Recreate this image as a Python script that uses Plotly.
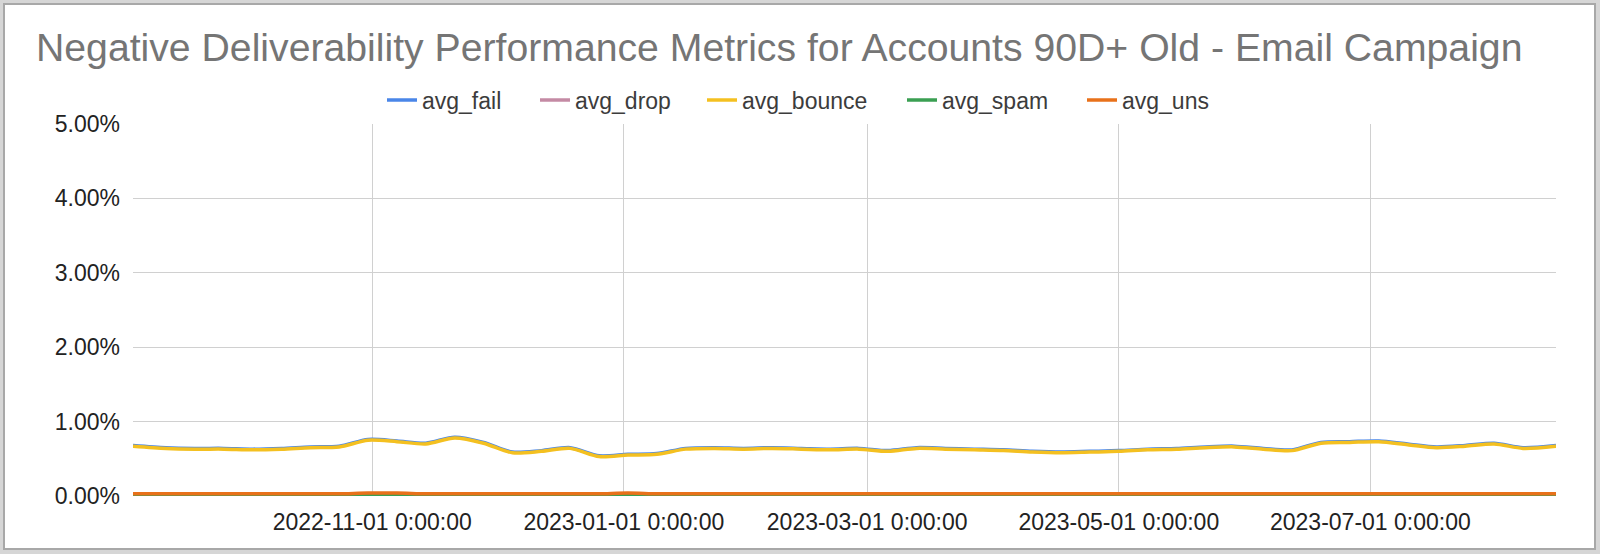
import plotly.graph_objects as go

# weekly points
dates = [
    '2022-09-04', '2022-09-12', '2022-09-19', '2022-09-26', '2022-10-03',
    '2022-10-10', '2022-10-17', '2022-10-24', '2022-10-31', '2022-11-07',
    '2022-11-14', '2022-11-21', '2022-11-28', '2022-12-05', '2022-12-12',
    '2022-12-19', '2022-12-26', '2023-01-02', '2023-01-09', '2023-01-16',
    '2023-01-23', '2023-01-30', '2023-02-06', '2023-02-13', '2023-02-20',
    '2023-02-27', '2023-03-06', '2023-03-13', '2023-03-20', '2023-03-27',
    '2023-04-03', '2023-04-10', '2023-04-17', '2023-04-24', '2023-05-01',
    '2023-05-08', '2023-05-15', '2023-05-22', '2023-05-29', '2023-06-05',
    '2023-06-12', '2023-06-19', '2023-06-26', '2023-07-03', '2023-07-10',
    '2023-07-17', '2023-07-24', '2023-07-31', '2023-08-07', '2023-08-15',
]

avg_bounce = [
    0.0067, 0.0064, 0.0063, 0.0063, 0.0062, 0.0063, 0.0065, 0.0066, 0.0075, 0.0073,
    0.0070, 0.0078, 0.0071, 0.0058, 0.0060, 0.0064, 0.0053, 0.0055, 0.0056, 0.0063,
    0.0064, 0.0063, 0.0064, 0.0063, 0.0062, 0.0063, 0.0060, 0.0064, 0.0063, 0.0062,
    0.0061, 0.0059, 0.0058, 0.0059, 0.0060, 0.0062, 0.0063, 0.0065, 0.0066, 0.0063,
    0.0061, 0.0071, 0.0072, 0.0073, 0.0069, 0.0065, 0.0067, 0.0070, 0.0064, 0.0067,
]
avg_fail = [
    0.0068, 0.0065, 0.0064, 0.0064, 0.0063, 0.0064, 0.0066, 0.0067, 0.0076, 0.0074,
    0.0071, 0.0079, 0.0072, 0.0059, 0.0061, 0.0065, 0.0054, 0.0056, 0.0057, 0.0064,
    0.0065, 0.0064, 0.0065, 0.0064, 0.0063, 0.0064, 0.0061, 0.0065, 0.0064, 0.0063,
    0.0062, 0.0060, 0.0059, 0.0060, 0.0061, 0.0063, 0.0064, 0.0066, 0.0067, 0.0064,
    0.0062, 0.0072, 0.0073, 0.0074, 0.0070, 0.0066, 0.0068, 0.0071, 0.0065, 0.0068,
]
avg_drop = [
    0.0001, 0.0001, 0.0001, 0.0001, 0.0001, 0.0001, 0.0001, 0.0001, 0.0001, 0.0001,
    0.0001, 0.0001, 0.0001, 0.0001, 0.0001, 0.0001, 0.0001, 0.0001, 0.0001, 0.0001,
    0.0001, 0.0001, 0.0001, 0.0001, 0.0001, 0.0001, 0.0001, 0.0001, 0.0001, 0.0001,
    0.0001, 0.0001, 0.0001, 0.0001, 0.0001, 0.0001, 0.0001, 0.0001, 0.0001, 0.0001,
    0.0001, 0.0001, 0.0001, 0.0001, 0.0001, 0.0001, 0.0001, 0.0001, 0.0001, 0.0001,
]
avg_spam = [
    0.00002, 0.00002, 0.00002, 0.00002, 0.00002, 0.00002, 0.00002, 0.00002, 0.00002, 0.00002,
    0.00002, 0.00002, 0.00002, 0.00002, 0.00002, 0.00002, 0.00002, 0.00002, 0.00002, 0.00002,
    0.00002, 0.00002, 0.00002, 0.00002, 0.00002, 0.00002, 0.00002, 0.00002, 0.00002, 0.00002,
    0.00002, 0.00002, 0.00002, 0.00002, 0.00002, 0.00002, 0.00002, 0.00002, 0.00002, 0.00002,
    0.00002, 0.00002, 0.00002, 0.00002, 0.00002, 0.00002, 0.00002, 0.00002, 0.00002, 0.00002,
]
avg_uns = [
    0.0003, 0.0003, 0.0003, 0.0003, 0.0003, 0.0003, 0.0003, 0.0003, 0.0004, 0.0004,
    0.0003, 0.0003, 0.0003, 0.0003, 0.0003, 0.0003, 0.0003, 0.0004, 0.0003, 0.0003,
    0.0003, 0.0003, 0.0003, 0.0003, 0.0003, 0.0003, 0.0003, 0.0003, 0.0003, 0.0003,
    0.0003, 0.0003, 0.0003, 0.0003, 0.0003, 0.0003, 0.0003, 0.0003, 0.0003, 0.0003,
    0.0003, 0.0003, 0.0003, 0.0003, 0.0003, 0.0003, 0.0003, 0.0003, 0.0003, 0.0003,
]

series_names = ['avg_fail', 'avg_drop', 'avg_bounce', 'avg_spam', 'avg_uns']
series_colors = ['#4a86e8', '#c48aa4', '#f4c020', '#3a9f52', '#e8711a']

x_tick_dates = ['2022-11-01', '2023-01-01', '2023-03-01', '2023-05-01', '2023-07-01']
x_tick_text = ['2022-11-01 0:00:00', '2023-01-01 0:00:00', '2023-03-01 0:00:00',
               '2023-05-01 0:00:00', '2023-07-01 0:00:00']
y_ticks = [0, 0.01, 0.02, 0.03, 0.04, 0.05]

font = dict(family='Liberation Sans, Arial, sans-serif')

W, H = 1600, 554
L, R, T, B = 133, 44, 124, 58
pw, ph = W - L - R, H - T - B

# one legend per series so the wide spacing of the original can be kept
legend_keys = ['legend', 'legend2', 'legend3', 'legend4', 'legend5']
legend_left_px = [387, 540, 707, 907, 1087]

fig = go.Figure()
for name, values, color, key in zip(series_names,
                                    [avg_fail, avg_drop, avg_bounce, avg_spam, avg_uns],
                                    series_colors, legend_keys):
    fig.add_trace(go.Scatter(
        x=dates, y=values, name=name, mode='lines', legend=key, showlegend=True,
        line=dict(color=color, width=3.5, shape='spline', smoothing=0.8)
    ))

legends = {}
for key, px in zip(legend_keys, legend_left_px):
    legends[key] = dict(
        orientation='h', x=(px - 5 - L) / pw, xanchor='left',
        y=1 + (T - 100) / ph, yanchor='middle',
        font=dict(size=23, color='#3c3c3c'),
        itemwidth=30, bgcolor='rgba(0,0,0,0)', borderwidth=0
    )

fig.update_layout(
    width=W, height=H,
    font=font,
    showlegend=True,
    paper_bgcolor='#d6d6d6',
    plot_bgcolor='white',
    margin=dict(l=L, r=R, t=T, b=B),
    title=dict(
        text='Negative Deliverability Performance Metrics for Accounts 90D+ Old - Email Campaign',
        font=dict(size=39.2, color='#757575'),
        x=36 / W, xanchor='left', y=1 - 47 / H, yanchor='middle'
    ),
    xaxis=dict(
        range=['2022-09-04', '2023-08-15'],
        tickvals=x_tick_dates, ticktext=x_tick_text,
        showgrid=True, gridcolor='#d0d0d0', gridwidth=1,
        tickfont=dict(size=23, color='#222222'),
        ticks='', zeroline=False, showline=False, ticklabelstandoff=10
    ),
    yaxis=dict(
        range=[0, 0.05], tickvals=y_ticks, tickformat='.2%',
        showgrid=True, gridcolor='#d0d0d0', gridwidth=1,
        tickfont=dict(size=23, color='#222222'),
        ticks='', zeroline=False, showline=False, ticklabelstandoff=12
    ),
    # white card with a thin grey border, like the screenshot frame
    shapes=[dict(
        type='rect', xref='paper', yref='paper', layer='below',
        x0=(4 - L) / pw, x1=(W - 5 - L) / pw,
        y0=-(B - 5) / ph, y1=1 + (T - 4) / ph,
        fillcolor='white', line=dict(color='#a8a8a8', width=2)
    )],
    hovermode='x',
    **legends
)

# drop the browser's default body margin so the figure sits at 0,0
fig.write_html('out.html', config={'displayModeBar': False},
               post_script="document.body.style.margin='0';")
